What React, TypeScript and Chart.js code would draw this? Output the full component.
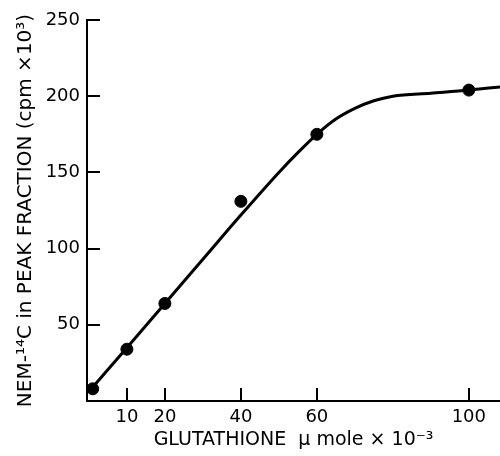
import React, { useEffect, useRef } from "react";
import { Chart, registerables } from "chart.js";

Chart.register(...registerables);

// Measured points (glutathione µmole ×10⁻³ vs NEM-14C cpm ×10³)
const pointX = [1, 10, 20, 40, 60, 100];
const pointY = [8, 34, 64, 131, 175, 204];

// Fitted smooth curve
const curveX = [1, 10, 20, 30, 40, 50, 55, 60, 65, 70, 75, 80, 90, 100, 110];
const curveY = [9, 35, 64, 93, 122, 150, 163, 175, 185, 192, 197, 200, 202, 204, 206.5];

const xTickValues = [10, 20, 40, 60, 100];
const yTickValues = [50, 100, 150, 200, 250];

const X_MIN = -0.5;
const X_MAX = 108.2;
const Y_MIN = 0;
const Y_MAX = 250;

const FONT = "'DejaVu Sans', sans-serif";

const inwardTicks = {
  id: "inwardTicks",
  afterDraw(chart: any) {
    const { ctx, chartArea, scales } = chart;
    const x = scales.x;
    const y = scales.y;
    ctx.save();
    ctx.strokeStyle = "#000";
    ctx.lineWidth = 2;
    ctx.beginPath();
    for (const v of yTickValues) {
      const py = Math.round(y.getPixelForValue(v));
      ctx.moveTo(chartArea.left, py);
      ctx.lineTo(chartArea.left + 13, py);
    }
    for (const v of xTickValues) {
      const px = Math.round(x.getPixelForValue(v));
      ctx.moveTo(px, chartArea.bottom);
      ctx.lineTo(px, chartArea.bottom - 13);
    }
    ctx.stroke();
    ctx.restore();
  },
};

export default function App() {
  const canvasRef = useRef<HTMLCanvasElement | null>(null);

  useEffect(() => {
    document.body.style.margin = "0";
    const canvas = canvasRef.current;
    if (!canvas) return;
    const chart = new Chart(canvas, {
      type: "scatter",
      data: {
        datasets: [
          {
            label: "points",
            data: pointX.map((v, i) => ({ x: v, y: pointY[i] })),
            backgroundColor: "#000",
            borderColor: "#000",
            pointRadius: 6,
            pointHoverRadius: 6,
            showLine: false,
          },
          {
            label: "curve",
            data: curveX.map((v, i) => ({ x: v, y: curveY[i] })),
            borderColor: "#000",
            borderWidth: 3,
            pointRadius: 0,
            showLine: true,
            cubicInterpolationMode: "monotone",
            fill: false,
          } as any,
        ],
      },
      options: {
        animation: false,
        responsive: true,
        maintainAspectRatio: false,
        layout: { autoPadding: false, padding: { top: 20, right: 0, left: 0, bottom: 0 } },
        plugins: {
          legend: { display: false },
          tooltip: { enabled: false },
        },
        scales: {
          x: {
            type: "linear",
            min: X_MIN,
            max: X_MAX,
            afterBuildTicks: (scale: any) => {
              scale.ticks = xTickValues.map((v) => ({ value: v }));
            },
            afterFit: (scale: any) => {
              scale.height = 55;
              scale.paddingRight = 0;
              scale.paddingLeft = 0;
            },
            ticks: {
              color: "#000",
              font: { family: FONT, size: 18 },
              padding: 6,
              maxRotation: 0,
              autoSkip: false,
              callback: (v: any) => String(v),
            },
            grid: {
              display: true,
              color: "rgba(0,0,0,0)",
              drawOnChartArea: false,
              drawTicks: false,
            },
            border: { display: true, color: "#000", width: 2 },
            title: {
              display: true,
              text: "GLUTATHIONE  \u00b5 mole \u00d7 10\u207b\u00b3",
              color: "#000",
              font: { family: FONT, size: 19 },
              padding: { top: 0, bottom: 5 },
            },
          },
          y: {
            type: "linear",
            min: Y_MIN,
            max: Y_MAX,
            afterBuildTicks: (scale: any) => {
              scale.ticks = yTickValues.map((v) => ({ value: v }));
            },
            afterFit: (scale: any) => {
              scale.width = 87;
            },
            ticks: {
              color: "#000",
              font: { family: FONT, size: 18 },
              padding: 7,
              autoSkip: false,
              callback: (v: any) => String(v),
            },
            grid: {
              display: true,
              color: "rgba(0,0,0,0)",
              drawOnChartArea: false,
              drawTicks: false,
            },
            border: { display: true, color: "#000", width: 2 },
            title: {
              display: true,
              text: "NEM-\u00b9\u2074C in PEAK FRACTION (cpm \u00d710\u00b3)",
              color: "#000",
              font: { family: FONT, size: 20 },
              padding: { top: 14, bottom: 0 },
            },
          },
        },
      },
      plugins: [inwardTicks],
    });
    return () => chart.destroy();
  }, []);

  return (
    <div style={{ position: "absolute", left: 0, top: 0, width: 500, height: 456, background: "#fff" }}>
      <canvas ref={canvasRef} />
    </div>
  );
}
